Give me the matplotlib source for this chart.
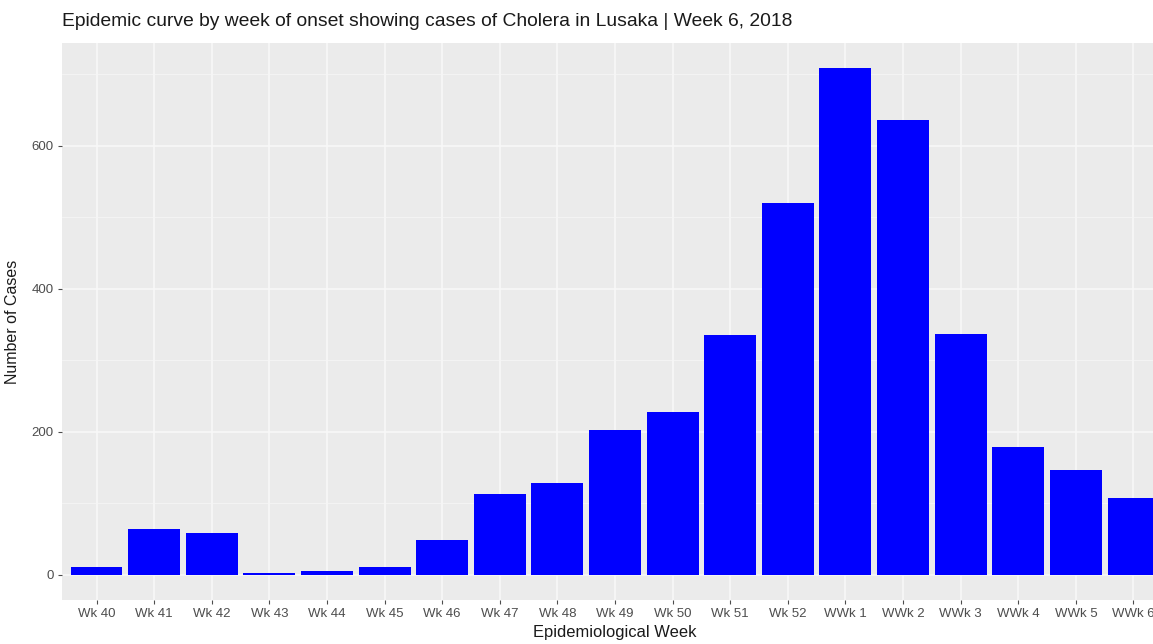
import matplotlib
matplotlib.use("Agg")
import matplotlib.pyplot as plt
import numpy as np

weeks = ["Wk 40", "Wk 41", "Wk 42", "Wk 43", "Wk 44", "Wk 45", "Wk 46", "Wk 47",
         "Wk 48", "Wk 49", "Wk 50", "Wk 51", "Wk 52", "WWk 1", "WWk 2", "WWk 3",
         "WWk 4", "WWk 5", "WWk 6"]
cases = [11, 64, 58, 2, 5, 11, 49, 113, 128, 202, 227, 335, 520, 708, 636, 337,
         178, 146, 107]
y_ticks = [0, 200, 400, 600]
y_minor = [100, 300, 500, 700]

plt.rcParams['font.family'] = ['Liberation Sans', 'DejaVu Sans']

fig = plt.figure(figsize=(11.53, 6.44), dpi=100)
W, H = 1153, 644
left, right, top, bottom = 62, 1168, 43, 600
ax = fig.add_axes([left / W, 1 - bottom / H, (right - left) / W, (bottom - top) / H])
ax.set_facecolor("#EBEBEB")

x = np.arange(len(weeks))
ax.bar(x, cases, width=0.9, color="#0000FF", zorder=3)

ymax = max(cases)
ax.set_ylim(-0.05 * ymax, ymax * 1.05)
ax.set_xlim(-0.6, len(weeks) - 1 + 0.6)

ax.set_xticks(x)
ax.set_xticklabels(weeks)
ax.set_yticks(y_ticks)
ax.set_yticks(y_minor, minor=True)

ax.grid(which="major", color="#F8F8F8", linewidth=1.2, zorder=0)
ax.grid(which="minor", axis="y", color="#F5F5F5", linewidth=0.6, zorder=0)
ax.set_axisbelow(True)

for s in ax.spines.values():
    s.set_visible(False)

ax.tick_params(axis="both", which="major", colors="#4D4D4D", labelsize=9.5,
               length=3, width=0.8, pad=3)
ax.tick_params(axis="y", which="minor", length=0)
for lbl in ax.get_xticklabels() + ax.get_yticklabels():
    lbl.set_color("#4D4D4D")

ax.set_xlabel("Epidemiological Week", fontsize=11.9, color="#1A1A1A", labelpad=3)
ax.set_ylabel("Number of Cases", fontsize=11.5, color="#1A1A1A", labelpad=8)

fig.text(left / W, 1 - 22 / H, "Epidemic curve by week of onset showing cases of Cholera in Lusaka | Week 6, 2018",
         fontsize=13.9, color="#1A1A1A", va="center", ha="left")

fig.savefig("out.png", dpi=100)
